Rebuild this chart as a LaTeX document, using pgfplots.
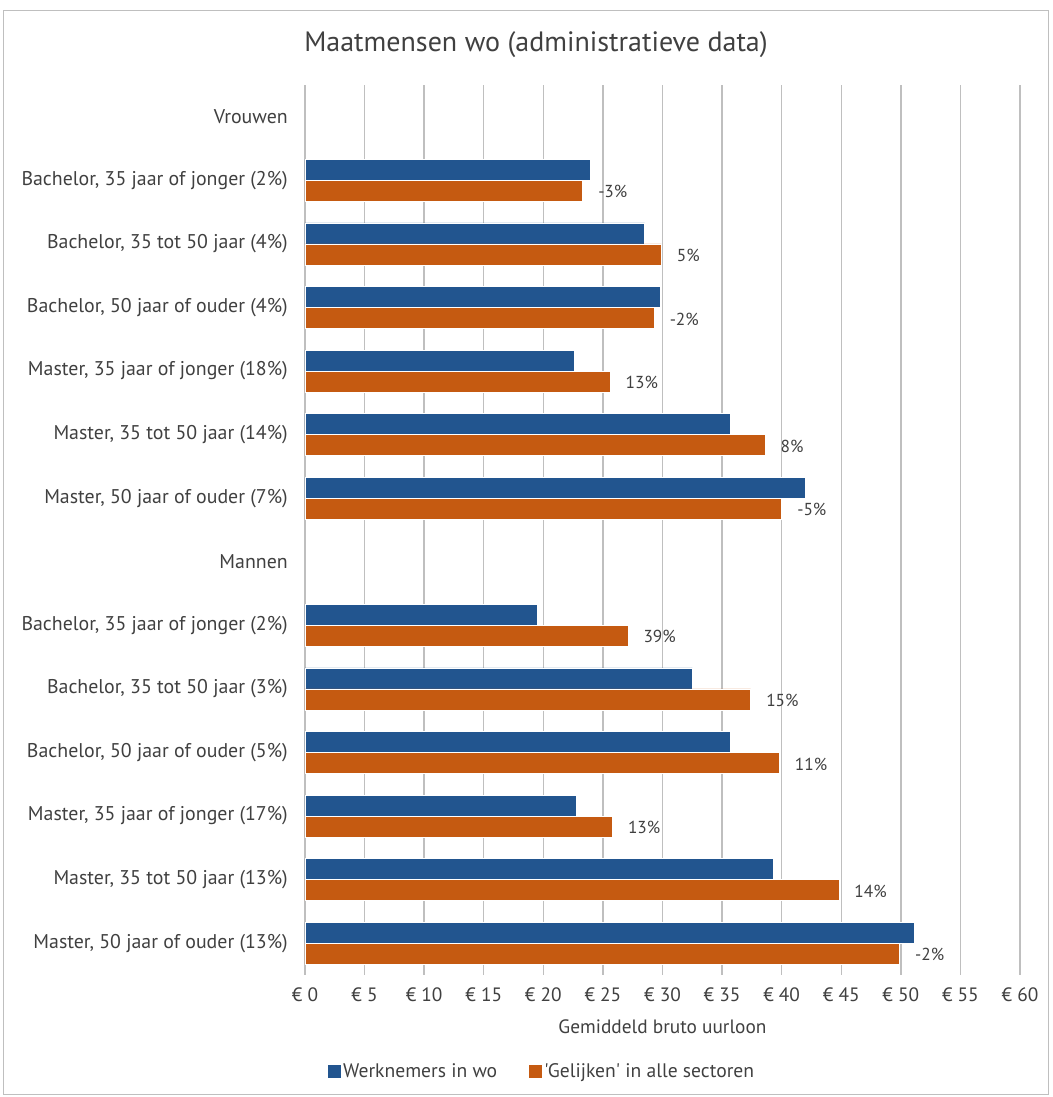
\documentclass[border=0pt]{standalone}
\usepackage{pgfplots}
\pgfplotsset{compat=1.18}
\usepackage{fontspec}
\setmainfont{PT Sans}
\newfontfamily\ptsplain{PT Sans}
\definecolor{cblue}{HTML}{22558F}
\definecolor{corange}{HTML}{C55A11}
\definecolor{ctext}{HTML}{404040}
\definecolor{cgrid}{HTML}{BFBFBF}
\begin{document}
\begin{tikzpicture}
\begin{scope}[x=0.75pt,y=-0.75pt]
\path (0,0) rectangle (1053,1097);
\draw[cgrid, line width=0.75pt] (3.5,10.5) rectangle (1048.5,1094.5);
\node[text=ctext, font=\fontsize{21}{24}\selectfont] at (536,45) {Maatmensen wo (administratieve data)};
\end{scope}
\begin{axis}[
  at={(228.75pt,-731.25pt)}, anchor=south west,
  scale only axis, width=536.25pt, height=667.5pt,
  xmin=0, xmax=60, ymin=-0.5, ymax=13.5, y dir=reverse,
  axis line style={draw=none},
  major tick length=0pt,
  xmajorgrids, grid style={cgrid, line width=1.1pt},
  xtick={0,5,...,60},
  xticklabels={€ 0,€ 5,€ 10,€ 15,€ 20,€ 25,€ 30,€ 35,€ 40,€ 45,€ 50,€ 55,€ 60},
  xticklabel style={text=ctext, font=\fontsize{14.5}{17}\selectfont, yshift=-6pt},
  ytick={0,...,13},
  yticklabels={Vrouwen,
    {Bachelor, 35 jaar of jonger (2\%)},
    {Bachelor, 35 tot 50 jaar (4\%)},
    {Bachelor, 50 jaar of ouder (4\%)},
    {Master, 35 jaar of jonger (18\%)},
    {Master, 35 tot 50 jaar (14\%)},
    {Master, 50 jaar of ouder (7\%)},
    Mannen,
    {Bachelor, 35 jaar of jonger (2\%)},
    {Bachelor, 35 tot 50 jaar (3\%)},
    {Bachelor, 50 jaar of ouder (5\%)},
    {Master, 35 jaar of jonger (17\%)},
    {Master, 35 tot 50 jaar (13\%)},
    {Master, 50 jaar of ouder (13\%)}},
  yticklabel style={text=ctext, font=\fontsize{14.9}{17}\selectfont, anchor=east, inner sep=0pt, xshift=-12.75pt},
  xlabel={Gemiddeld bruto uurloon},
  xlabel style={text=ctext, font=\fontsize{14.5}{17}\selectfont, at={(axis description cs:0.5,0)}, anchor=center, yshift=-39pt},
  legend columns=2,
  legend style={draw=none, fill=none, at={(axis description cs:0.332,-0.108)}, anchor=center,
    font=\fontsize{14.7}{17}\selectfont, text=ctext,
    /tikz/every even column/.append style={column sep=22pt}},
  xbar, bar width=0.33,
]
\addplot[fill=cblue, draw=white, line width=0.4pt, bar shift=-0.165,
  legend image code/.code={\fill[cblue] (0pt,-4.5pt) rectangle (9pt,4.5pt);}]
  table[x=x, y=y, row sep=\\] {
y x\\
1 23.9\\
2 28.5\\
3 29.8\\
4 22.6\\
5 35.7\\
6 42.0\\
8 19.5\\
9 32.5\\
10 35.7\\
11 22.8\\
12 39.3\\
13 51.1\\
};
\addlegendentry{Werknemers in wo}
\addplot[fill=corange, draw=white, line width=0.4pt, bar shift=0.165,
  legend image code/.code={\fill[corange] (0pt,-4.5pt) rectangle (9pt,4.5pt);},
  point meta=explicit symbolic, nodes near coords,
  every node near coord/.style={anchor=west, inner sep=0pt, xshift=11.5pt, yshift=-8.6pt, text=ctext, font=\fontsize{13}{15}\selectfont}]
  table[x=x, y=y, meta=m, row sep=\\] {
y x m\\
1 23.3 -3\%\\
2 29.9 5\%\\
3 29.3 -2\%\\
4 25.6 13\%\\
5 38.6 8\%\\
6 40.0 -5\%\\
8 27.1 39\%\\
9 37.4 15\%\\
10 39.8 11\%\\
11 25.8 13\%\\
12 44.8 14\%\\
13 49.9 -2\%\\
};
\addlegendentry{{\ptsplain 'Gelijken'} in alle sectoren}
\end{axis}
\end{tikzpicture}
\end{document}
